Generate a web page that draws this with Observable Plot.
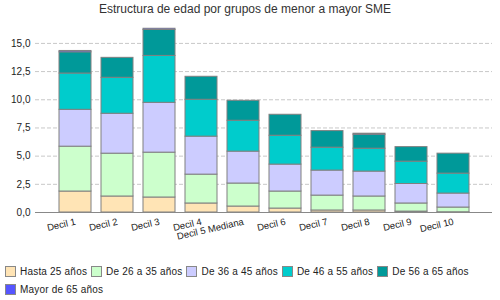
<!DOCTYPE html>
<html><head><meta charset="utf-8">
<script src="https://cdn.jsdelivr.net/npm/d3@7"></script>
<script src="https://cdn.jsdelivr.net/npm/@observablehq/plot@0.6"></script>
<style>
body{margin:0;background:#fff;width:500px;height:300px;overflow:hidden;font-family:"Liberation Sans",Arial,sans-serif;}
#title{height:20px;line-height:18px;font-size:12px;color:#333;text-align:center;width:490px;}
#legend{display:flex;flex-wrap:wrap;width:480px;padding-left:5px;font-size:10px;letter-spacing:0.2px;color:#222;}
.item{display:flex;align-items:center;height:18px;margin-right:4px;}
.sw{width:9px;height:9px;border:1px solid #888;margin-right:4px;}
</style></head>
<body>
<div id="title">Estructura de edad por grupos de menor a mayor SME</div>
<div id="chart"></div>
<div id="legend"></div>
<script>
const categories = ["Decil 1","Decil 2","Decil 3","Decil 4","Decil 5 Mediana","Decil 6","Decil 7","Decil 8","Decil 9","Decil 10"];
const seriesNames = ["Hasta 25 años","De 26 a 35 años","De 36 a 45 años","De 46 a 55 años","De 56 a 65 años","Mayor de 65 años"];
const colors = ["#FFE4B5","#CCFFCC","#CCCCFF","#00CCCC","#009999","#5555FF"];
const hasta25  = [1.86,1.42,1.33,0.80,0.53,0.35,0.18,0.18,0.08,0.02];
const de26a35  = [3.98,3.80,3.98,2.56,2.04,1.51,1.32,1.24,0.72,0.42];
const de36a45  = [3.27,3.54,4.42,3.37,2.83,2.39,2.22,2.21,1.73,1.24];
const de46a55  = [3.22,3.19,4.16,3.27,2.74,2.56,2.03,2.03,1.98,1.77];
const de56a65  = [1.88,1.77,2.30,2.04,1.77,1.86,1.47,1.24,1.29,1.77];
const mayor65  = [0.12,0.00,0.11,0.00,0.00,0.00,0.00,0.09,0.00,0.00];
const yTicks = [0,2.5,5,7.5,10,12.5,15];

const seriesValues = [hasta25,de26a35,de36a45,de46a55,de56a65,mayor65];
const data = [];
seriesValues.forEach((vals,si)=>vals.forEach((v,ci)=>data.push({cat:categories[ci],series:seriesNames[si],value:v})));

const fmt = d => d3.format(".1f")(d).replace(".", ",");

const chart = Plot.plot({
  width:500,
  height:242,
  marginLeft:35,
  marginRight:8,
  marginTop:6,
  marginBottom:50,
  style:{fontFamily:"'Liberation Sans', Arial, sans-serif",fontSize:"10px",color:"#222",background:"#fff"},
  x:{domain:categories,paddingInner:0.24,paddingOuter:0.56,label:null},
  y:{domain:[0,16.5],label:null},
  color:{domain:seriesNames,range:colors},
  marks:[
    Plot.gridY(yTicks,{stroke:"#c8c8c8",strokeOpacity:1,strokeDasharray:"4,2"}),
    Plot.axisY(yTicks,{tickSize:0,tickPadding:5,tickFormat:fmt,fontSize:10,label:null}),
    Plot.barY(data,{x:"cat",y:"value",fill:"series",stroke:"#808080",strokeWidth:1,inset:0}),
    Plot.ruleY([0],{stroke:"#888"}),
    Plot.axisX({tickSize:0,tickRotate:-13,tickPadding:9,fontSize:9.5,label:null,style:"letter-spacing:0.8px"})
  ]
});
document.getElementById("chart").appendChild(chart);

const leg = document.getElementById("legend");
seriesNames.forEach((n,i)=>{
  const it=document.createElement("div");it.className="item";
  const sw=document.createElement("div");sw.className="sw";sw.style.background=colors[i];
  const t=document.createElement("span");t.textContent=n;
  it.appendChild(sw);it.appendChild(t);leg.appendChild(it);
});
</script>
</body></html>
